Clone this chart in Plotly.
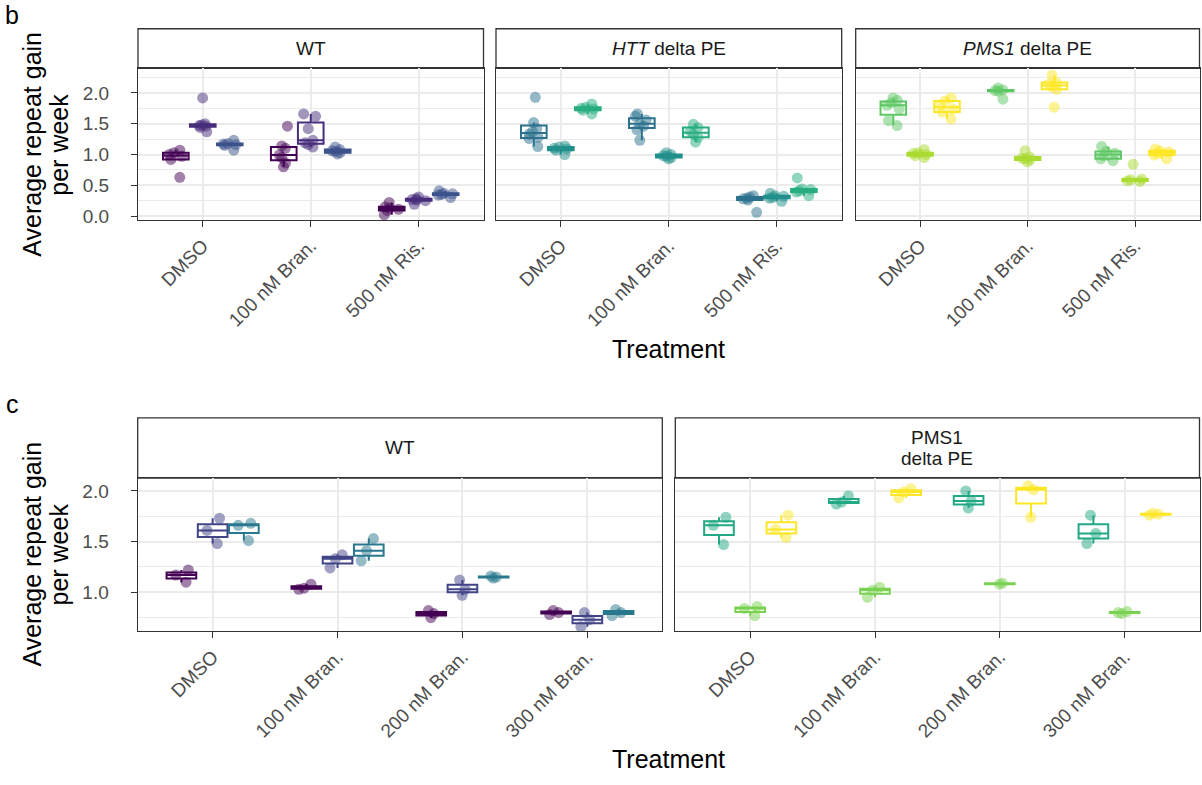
import plotly.graph_objects as go

# ---------------- data ----------------
treat_b = ["DMSO", "100 nM Bran.", "500 nM Ris."]
treat_c = ["DMSO", "100 nM Bran.", "200 nM Bran.", "300 nM Bran."]

strip_b = ["WT", "<i>HTT</i> delta PE", "<i>PMS1</i> delta PE"]
strip_c_wt = "WT"
strip_c_pms1 = ["PMS1", "delta PE"]

# colours (viridis 9 for panel b, viridis 6 for panel c)
colors_b = ["#440154", "#472D7B", "#3B528B", "#2C728E", "#21908C",
            "#27AD81", "#5DC863", "#AADC32", "#FDE725"]
colors_c = ["#440154", "#414487", "#2A788E", "#22A884", "#7AD151", "#FDE725"]

# panel b - WT (inner lists follow treat_b)
b_wt_1 = [[0.63, 0.92, 0.97, 1.00, 1.03, 1.07],
          [0.80, 0.86, 0.95, 0.99, 1.10, 1.14, 1.46],
          [0.02, 0.09, 0.11, 0.13, 0.15, 0.22]]
b_wt_2 = [[1.37, 1.44, 1.46, 1.47, 1.48, 1.50, 1.92],
          [1.12, 1.16, 1.19, 1.23, 1.42, 1.62, 1.66],
          [0.19, 0.25, 0.26, 0.27, 0.28, 0.31]]
b_wt_3 = [[1.07, 1.15, 1.16, 1.17, 1.18, 1.23],
          [1.01, 1.03, 1.05, 1.06, 1.08, 1.12],
          [0.30, 0.34, 0.35, 0.36, 0.37, 0.41]]
# panel b - HTT delta PE
b_htt_1 = [[1.13, 1.26, 1.28, 1.33, 1.37, 1.42, 1.52, 1.93],
           [1.23, 1.40, 1.46, 1.50, 1.56, 1.62, 1.66],
           [0.06, 0.26, 0.28, 0.29, 0.31, 0.33]]
b_htt_2 = [[1.00, 1.07, 1.09, 1.10, 1.12, 1.14],
           [0.93, 0.95, 0.97, 0.98, 1.00, 1.03],
           [0.24, 0.29, 0.30, 0.32, 0.33, 0.37]]
b_htt_3 = [[1.66, 1.72, 1.74, 1.75, 1.77, 1.82],
           [1.20, 1.28, 1.33, 1.38, 1.44, 1.49],
           [0.33, 0.39, 0.41, 0.43, 0.44, 0.62]]
# panel b - PMS1 delta PE
b_pms1_1 = [[1.47, 1.55, 1.74, 1.80, 1.84, 1.88, 1.92],
            [1.90, 2.03, 2.04, 2.05, 2.08],
            [0.90, 0.93, 0.98, 1.02, 1.05, 1.13]]
b_pms1_2 = [[0.95, 0.98, 1.00, 1.02, 1.03, 1.08],
            [0.88, 0.91, 0.93, 0.94, 0.96, 1.06],
            [0.56, 0.57, 0.59, 0.60, 0.84]]
b_pms1_3 = [[1.58, 1.69, 1.74, 1.80, 1.87, 1.92],
            [1.77, 2.06, 2.10, 2.14, 2.17, 2.29],
            [0.93, 0.99, 1.02, 1.04, 1.06, 1.09]]

# panel c - WT (inner lists follow treat_c)
c_wt_1 = [[1.10, 1.17, 1.22], [1.03, 1.04, 1.08], [0.75, 0.79, 0.82], [0.78, 0.80, 0.82]]
c_wt_2 = [[1.48, 1.61, 1.73], [1.24, 1.33, 1.37], [0.97, 1.03, 1.12], [0.66, 0.73, 0.80]]
c_wt_3 = [[1.51, 1.66, 1.68], [1.31, 1.41, 1.53], [1.14, 1.15, 1.16], [0.77, 0.80, 0.83]]
# panel c - PMS1 delta PE
c_pms1_1 = [[1.47, 1.66, 1.74], [1.87, 1.89, 1.95], [1.83, 1.90, 2.00], [1.48, 1.58, 1.76]]
c_pms1_2 = [[0.77, 0.84, 0.86], [0.95, 1.02, 1.05], [1.08, 1.09], [0.79, 0.80, 0.81]]
c_pms1_3 = [[1.54, 1.62, 1.76], [1.93, 1.99, 2.02], [1.74, 2.01, 2.05], [1.76, 1.77, 1.78]]

yticks_b = [0.0, 0.5, 1.0, 1.5, 2.0]
yticks_c = [1.0, 1.5, 2.0]

# ---------------- layout geometry (pixels) ----------------
W, H = 1202, 785
FONT = "Liberation Sans, Arial, sans-serif"
TICK_GRAY = "#4D4D4D"
FRAME = "#333333"
GRID = "#EBEBEB"


def px(x):
    return x / W


def py(y):
    return 1 - y / H


panels = [
    ("x", "y", 138, 483.5, 69, 222, treat_b, [b_wt_1, b_wt_2, b_wt_3], colors_b[0:3], [-0.065, 2.40], yticks_b, True),
    ("x2", "y2", 496, 841.7, 69, 222, treat_b, [b_htt_1, b_htt_2, b_htt_3], colors_b[3:6], [-0.065, 2.40], yticks_b, False),
    ("x3", "y3", 855.7, 1199.5, 69, 222, treat_b, [b_pms1_1, b_pms1_2, b_pms1_3], colors_b[6:9], [-0.065, 2.40], yticks_b, False),
    ("x4", "y4", 137.7, 662.3, 482.3, 636.7, treat_c, [c_wt_1, c_wt_2, c_wt_3], colors_c[0:3], [0.618, 2.127], yticks_c, True),
    ("x5", "y5", 675.3, 1199.5, 482.3, 636.7, treat_c, [c_pms1_1, c_pms1_2, c_pms1_3], colors_c[3:6], [0.618, 2.127], yticks_c, False),
]

fig = go.Figure()
layout = dict(
    width=W, height=H,
    margin=dict(l=0, r=0, t=0, b=0),
    paper_bgcolor="white", plot_bgcolor="white",
    showlegend=False,
    boxmode="group", boxgap=0.25, boxgroupgap=0.05,
    font=dict(family=FONT, color="#1A1A1A"),
)


def hex_rgba(h, a):
    h = h.lstrip("#")
    return "rgba(%d,%d,%d,%.2f)" % (int(h[0:2], 16), int(h[2:4], 16), int(h[4:6], 16), a)


for (xa, ya, x0, x1, yt, yb, treats, groups, cols, yr, yticks, showy) in panels:
    for gi, (g, col) in enumerate(zip(groups, cols)):
        xs, ys = [], []
        for t, vals in zip(treats, g):
            xs += [t] * len(vals)
            ys += vals
        fig.add_trace(go.Box(
            x=xs, y=ys, xaxis=xa, yaxis=ya,
            offsetgroup="g%d" % gi, alignmentgroup=xa,
            boxpoints="all", jitter=0.6, pointpos=0,
            quartilemethod="inclusive",
            whiskerwidth=0,
            fillcolor="white",
            line=dict(color=col, width=2),
            marker=dict(color=hex_rgba(col, 0.5), size=11, line=dict(width=0)),
            hoverinfo="skip",
        ))
    xkey = "xaxis" if xa == "x" else "xaxis" + xa[1:]
    ykey = "yaxis" if ya == "y" else "yaxis" + ya[1:]
    layout[xkey] = dict(
        domain=[px(x0), px(x1)], anchor=ya,
        type="category", categoryorder="array", categoryarray=treats,
        range=[-0.6, len(treats) - 0.4],
        showgrid=True, gridcolor=GRID, gridwidth=1.5,
        showline=True, linecolor=FRAME, linewidth=1.3, mirror=True,
        ticks="outside", ticklen=6, tickwidth=1.3, tickcolor=FRAME,
        tickangle=-45, tickfont=dict(size=19, color=TICK_GRAY, family=FONT),
        zeroline=False,
    )
    layout[ykey] = dict(
        domain=[py(yb), py(yt)], anchor=xa,
        range=yr, tickmode="array", tickvals=yticks,
        ticktext=["%.1f" % v for v in yticks],
        showgrid=True, gridcolor=GRID, gridwidth=1.5,
        minor=dict(tickmode="linear", tick0=0, dtick=0.25, showgrid=True,
                   gridcolor=GRID, gridwidth=0.8, ticks=""),
        showline=True, linecolor=FRAME, linewidth=1.3, mirror=True,
        ticks="outside" if showy else "", ticklen=6, tickwidth=1.3, tickcolor=FRAME,
        showticklabels=showy, ticklabelstandoff=18,
        tickfont=dict(size=19, color=TICK_GRAY, family=FONT),
        zeroline=False,
    )

fig.update_layout(**layout)

shapes = []
annotations = []

# strips
strip_defs = [
    (138, 483.5, 29, 69, [strip_b[0]]),
    (496, 841.7, 29, 69, [strip_b[1]]),
    (855.7, 1199.5, 29, 69, [strip_b[2]]),
    (137.7, 662.3, 421.7, 482.3, [strip_c_wt]),
    (675.3, 1199.5, 421.7, 482.3, strip_c_pms1),
]
for (x0, x1, y0, y1, lines) in strip_defs:
    shapes.append(dict(type="rect", xref="paper", yref="paper",
                       x0=px(x0), x1=px(x1), y0=py(y1), y1=py(y0),
                       line=dict(color=FRAME, width=1.3), fillcolor="white", layer="below"))
    n = len(lines)
    yc = (y0 + y1) / 2
    for i, txt in enumerate(lines):
        yy = yc + (i - (n - 1) / 2) * 22
        annotations.append(dict(text=txt, xref="paper", yref="paper",
                                x=px((x0 + x1) / 2), y=py(yy), xanchor="center", yanchor="middle",
                                showarrow=False, font=dict(size=19, color="#1A1A1A", family=FONT)))

# y-axis titles
for yc in (146, 559.5):
    annotations.append(dict(text="Average repeat gain", xref="paper", yref="paper",
                            x=px(32), y=py(yc), xanchor="center", yanchor="middle",
                            textangle=-90, showarrow=False,
                            font=dict(size=25, color="black", family=FONT)))
    annotations.append(dict(text="per week", xref="paper", yref="paper",
                            x=px(59), y=py(yc), xanchor="center", yanchor="middle",
                            textangle=-90, showarrow=False,
                            font=dict(size=25, color="black", family=FONT)))

# x-axis titles
for yc in (352, 766):
    annotations.append(dict(text="Treatment", xref="paper", yref="paper",
                            x=px(668.5), y=py(yc), xanchor="center", yanchor="middle",
                            showarrow=False, font=dict(size=25, color="black", family=FONT)))

# panel tags
for tag, yc in (("b", 15), ("c", 408)):
    annotations.append(dict(text=tag, xref="paper", yref="paper",
                            x=px(12), y=py(yc), xanchor="center", yanchor="middle",
                            showarrow=False, font=dict(size=25, color="black", family=FONT)))

fig.update_layout(shapes=shapes, annotations=annotations)

fig.write_html("out.html", config={"displayModeBar": False},
               post_script="document.body.style.margin='0';document.body.style.overflow='hidden';")
